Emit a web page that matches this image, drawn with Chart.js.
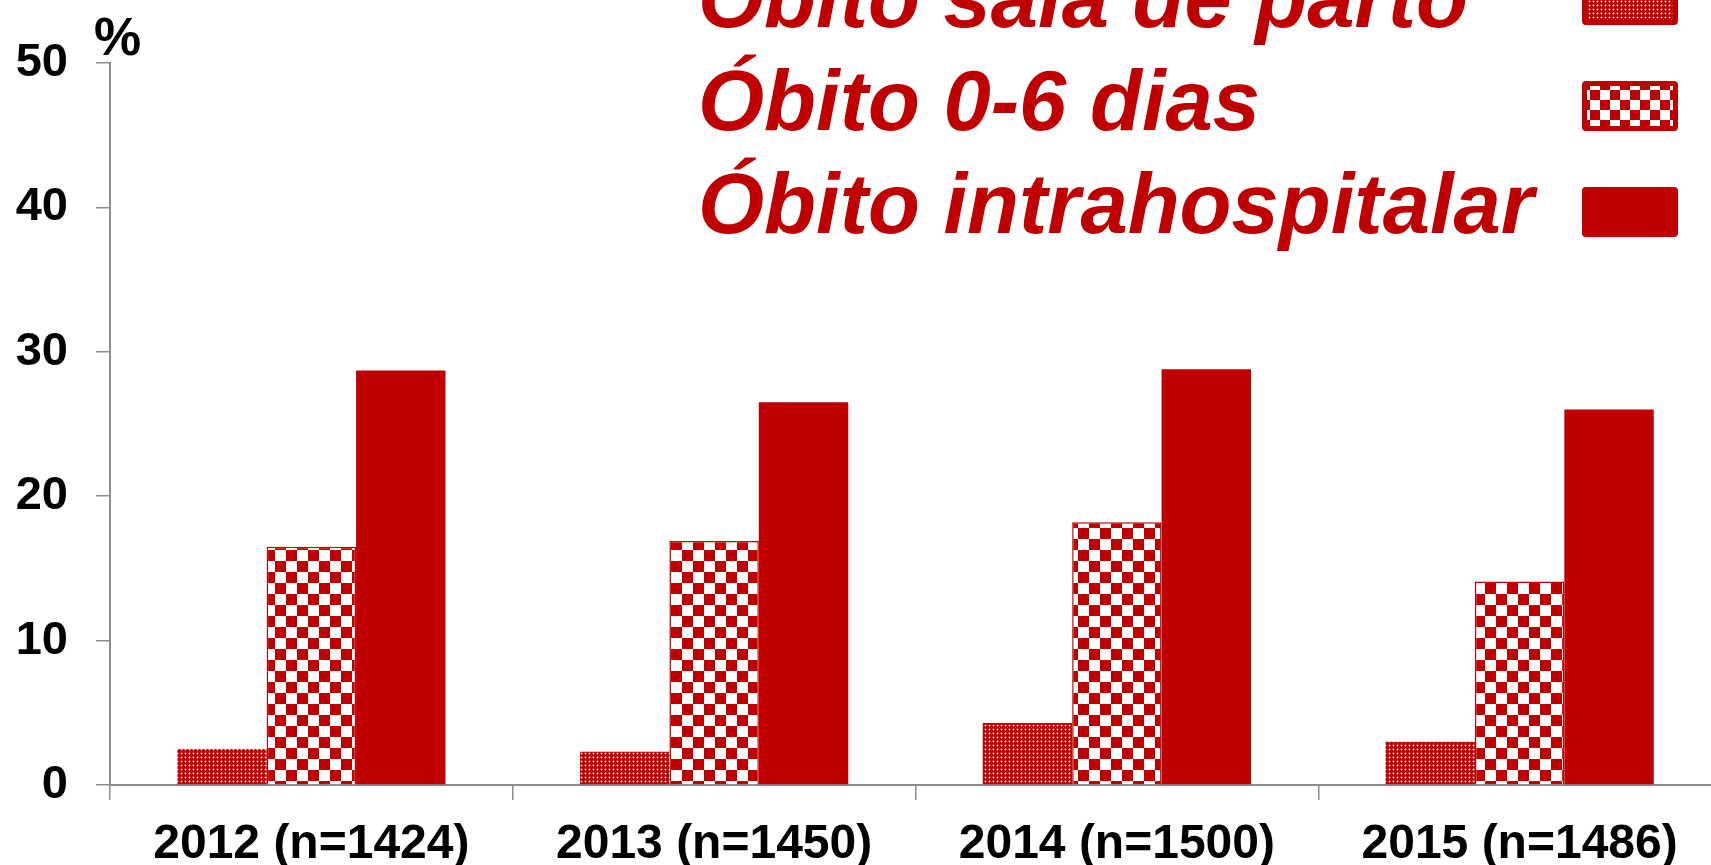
<!DOCTYPE html>
<html>
<head>
<meta charset="utf-8">
<script src="https://cdn.jsdelivr.net/npm/chart.js@4"></script>
<style>
html,body{margin:0;padding:0;background:#fff;overflow:hidden;width:1711px;height:865px;}
canvas{display:block;}
</style>
</head>
<body>
<canvas id="c" width="1721" height="865"></canvas>
<script>
const categories = ['2012 (n=1424)', '2013 (n=1450)', '2014 (n=1500)', '2015 (n=1486)'];
const seriesLabels = ['Óbito sala de parto', 'Óbito 0-6 dias', 'Óbito intrahospitalar'];
const salaDeParto = [2.5, 2.3, 4.3, 3.0];
const obito06 = [16.5, 16.9, 18.2, 14.1];
const intrahospitalar = [28.7, 26.5, 28.8, 26.0];
const yTicks = [0, 10, 20, 30, 40, 50];
const unitLabel = '%';

const RED = '#C00000';
const GRAY = '#8c8c8c';

function dotPattern() {
  const c = document.createElement('canvas');
  c.width = 4; c.height = 4;
  const x = c.getContext('2d');
  x.fillStyle = RED; x.fillRect(0, 0, 4, 4);
  x.fillStyle = '#d65a5a';
  x.fillRect(0, 1, 1, 1); x.fillRect(2, 1, 1, 1); x.fillRect(1, 0, 1, 1); x.fillRect(1, 2, 1, 1);
  x.fillStyle = '#fff4f4'; x.fillRect(1, 1, 1, 1);
  return x.createPattern(c, 'repeat');
}
function checkerPattern(s) {
  const c = document.createElement('canvas');
  c.width = 2 * s; c.height = 2 * s;
  const x = c.getContext('2d');
  x.fillStyle = '#ffffff'; x.fillRect(0, 0, 2 * s, 2 * s);
  x.fillStyle = RED;
  x.fillRect(0, 0, s, s); x.fillRect(s, s, s, s);
  return x.createPattern(c, 'repeat');
}
const patDots = dotPattern();
const patChecker = checkerPattern(11);

const legendPlugin = {
  id: 'customLegend',
  afterDraw(chart) {
    const ctx = chart.ctx;
    ctx.save();
    ctx.fillStyle = '#000';
    ctx.font = 'bold 53px "Liberation Sans", Arial, sans-serif';
    ctx.textBaseline = 'alphabetic';
    ctx.textAlign = 'left';
    ctx.fillText(unitLabel, 94, 55);
    ctx.font = 'italic bold 85px "Liberation Sans", Arial, sans-serif';
    chart.data.datasets.forEach((ds, i) => {
      const base = 27 + 103 * i;
      ctx.fillStyle = RED;
      ctx.fillText(ds.label, 698, base);
      const sx = 1582, sy = -25 + 106 * i, sw = 96, sh = 50;
      ctx.beginPath();
      ctx.roundRect(sx, sy, sw, sh, 4);
      ctx.fillStyle = RED;
      ctx.fill();
      if (ds.swatchInner) {
        ctx.fillStyle = ds.swatchInner;
        ctx.fillRect(sx + 5, sy + 5, sw - 10, sh - 10);
      }
    });
    ctx.restore();
  }
};

const ctx = document.getElementById('c').getContext('2d');
new Chart(ctx, {
  type: 'bar',
  data: {
    labels: categories,
    datasets: [
      { label: seriesLabels[0], data: salaDeParto, backgroundColor: patDots, borderWidth: 0, swatchInner: patDots },
      { label: seriesLabels[1], data: obito06, backgroundColor: patChecker, borderColor: RED, borderWidth: 1.5, swatchInner: checkerPattern(10) },
      { label: seriesLabels[2], data: intrahospitalar, backgroundColor: RED, borderWidth: 0 }
    ]
  },
  options: {
    responsive: false,
    animation: false,
    devicePixelRatio: 1,
    layout: { padding: { top: 63, right: 0, left: 0, bottom: 0 } },
    plugins: { legend: { display: false }, tooltip: { enabled: false } },
    datasets: { bar: { categoryPercentage: 0.666, barPercentage: 1.0 } },
    scales: {
      x: {
        grid: { display: true, offset: true, drawOnChartArea: false, drawTicks: true, tickLength: 15, color: GRAY, lineWidth: 1.5 },
        border: { display: true, color: GRAY, width: 2 },
        ticks: { color: '#000', font: { family: '"Liberation Sans", Arial, sans-serif', weight: 'bold', size: 48 }, padding: 16, maxRotation: 0, autoSkip: false },
        afterFit(s) { s.height = 80; }
      },
      y: {
        min: 0, max: 50,
        afterBuildTicks(s) { s.ticks = yTicks.map(v => ({ value: v })); },
        grid: { display: true, drawOnChartArea: false, drawTicks: true, tickLength: 14, color: GRAY, lineWidth: 1.5 },
        border: { display: true, color: GRAY, width: 2 },
        ticks: { color: '#000', font: { family: '"Liberation Sans", Arial, sans-serif', weight: 'bold', size: 47 }, padding: 28 },
        afterFit(s) { s.width = 110; }
      }
    }
  },
  plugins: [legendPlugin]
});
</script>
</body>
</html>
